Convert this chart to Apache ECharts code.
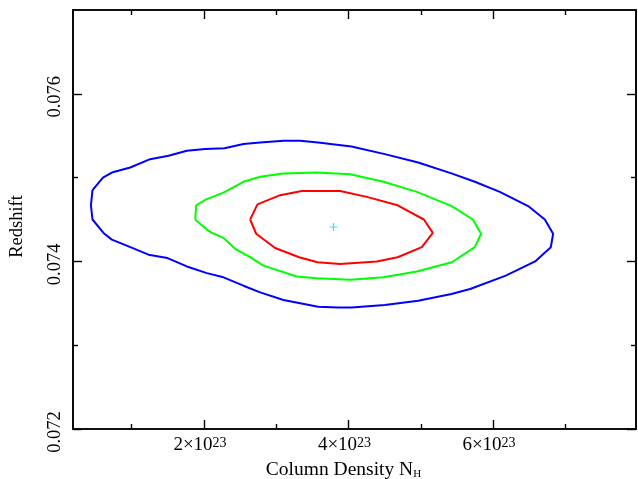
<!DOCTYPE html>
<html>
<head>
<meta charset="utf-8">
<script src="https://cdn.jsdelivr.net/npm/echarts@6/dist/echarts.min.js"></script>
<style>
html, body { margin: 0; padding: 0; background: #fff; }
#chart { width: 638px; height: 479px; }
</style>
</head>
<body>
<div id="chart"></div>
<script>
// column density in units of 1e23, redshift
var blueContour = [
  [0.457, 0.07485], [0.601, 0.07500], [0.725, 0.07506], [0.979, 0.07512], [1.255, 0.07522],
  [1.509, 0.07526], [1.763, 0.07532], [2.016, 0.07534], [2.284, 0.07535], [2.546, 0.07540],
  [2.778, 0.07542], [3.100, 0.07544], [3.331, 0.07544], [3.580, 0.07542], [4.041, 0.07537],
  [4.503, 0.07528], [4.964, 0.07518], [5.425, 0.07505], [5.748, 0.07495], [6.094, 0.07483],
  [6.486, 0.07466], [6.717, 0.07450], [6.832, 0.07433], [6.800, 0.07417], [6.583, 0.07400],
  [6.177, 0.07383], [5.683, 0.07367], [5.425, 0.07361], [4.964, 0.07353], [4.503, 0.07348],
  [4.041, 0.07345], [3.857, 0.07345], [3.580, 0.07346], [3.100, 0.07354], [2.778, 0.07363],
  [2.546, 0.07371], [2.270, 0.07381], [2.040, 0.07386], [1.763, 0.07394], [1.495, 0.07404],
  [1.232, 0.07408], [0.955, 0.07418], [0.725, 0.07426], [0.609, 0.07434], [0.457, 0.07450],
  [0.435, 0.07467], [0.457, 0.07485]
];
var greenContour = [
  [1.878, 0.07450], [1.892, 0.07467], [2.030, 0.07474], [2.270, 0.07482], [2.546, 0.07495],
  [2.778, 0.07501], [3.100, 0.07505], [3.562, 0.07506], [4.023, 0.07504], [4.484, 0.07495],
  [4.946, 0.07483], [5.430, 0.07466], [5.721, 0.07450], [5.835, 0.07433], [5.748, 0.07417],
  [5.430, 0.07399], [4.946, 0.07388], [4.484, 0.07381], [4.023, 0.07378], [3.562, 0.07380],
  [3.285, 0.07382], [2.823, 0.07395], [2.639, 0.07405], [2.432, 0.07415], [2.270, 0.07428],
  [2.109, 0.07434], [2.040, 0.07438], [1.878, 0.07450]
];
var redContour = [
  [2.639, 0.07450], [2.740, 0.07468], [3.054, 0.07479], [3.355, 0.07484], [3.608, 0.07484],
  [3.884, 0.07484], [4.254, 0.07477], [4.680, 0.07467], [5.043, 0.07450], [5.167, 0.07434],
  [5.015, 0.07417], [4.680, 0.07405], [4.392, 0.07400], [3.884, 0.07397], [3.573, 0.07399],
  [3.317, 0.07405], [2.985, 0.07416], [2.722, 0.07433], [2.639, 0.07450]
];
var bestFit = [[3.792, 0.07441]];

var xRange = [0.187, 7.979];
var yRange = [0.072, 0.077];
var xMajorTicks = [2, 4, 6];
var xMinorTicks = [1, 3, 5, 7];
var yMajorTicks = [0.072, 0.074, 0.076];
var yMinorTicks = [0.073, 0.075];

var FONT = 'Liberation Serif, Times New Roman, serif';
var chart = echarts.init(document.getElementById('chart'));

function frameAxis(pos, range, ticks, len, label) {
  return {
    type: 'value',
    position: pos,
    min: range[0],
    max: range[1],
    axisLine: { show: true, onZero: false, lineStyle: { color: '#000', width: 1.6 } },
    axisTick: { show: true, inside: true, length: len, customValues: ticks,
                lineStyle: { color: '#000', width: 1.4 } },
    axisLabel: label || { show: false },
    splitLine: { show: false }
  };
}

var xLabel = {
  show: true, customValues: xMajorTicks, margin: 7, padding: [0, 8, 0, 0],
  formatter: function (v) { return '{m|' + v + '×10}{s|23}'; },
  rich: {
    m: { fontFamily: FONT, fontSize: 19, color: '#000' },
    s: { fontFamily: FONT, fontSize: 14, color: '#000', verticalAlign: 'top' }
  }
};
var yLabel = {
  show: true, customValues: yMajorTicks, rotate: 90, margin: 8, padding: [0, 6, 0, 0],
  fontFamily: FONT, fontSize: 18.5, color: '#000',
  formatter: function (v) { return v.toFixed(3); }
};

var xMain = frameAxis('bottom', xRange, xMajorTicks, 9, xLabel);
xMain.name = '{m|Column Density N}{s|H}';
xMain.nameLocation = 'middle';
xMain.nameGap = 30;
xMain.nameTextStyle = {
  padding: [0, 22, 0, 0],
  rich: {
    m: { fontFamily: FONT, fontSize: 19.5, color: '#000' },
    s: { fontFamily: FONT, fontSize: 11, color: '#000', verticalAlign: 'bottom' }
  }
};
var yMain = frameAxis('left', yRange, yMajorTicks, 9, yLabel);
yMain.name = 'Redshift';
yMain.nameLocation = 'middle';
yMain.nameGap = 46;
yMain.nameTextStyle = { fontFamily: FONT, fontSize: 18.5, color: '#000', padding: [0, 14, 0, 0] };

function contour(data, color) {
  return {
    type: 'line', data: data, showSymbol: false, smooth: false,
    lineStyle: { color: color, width: 2 }, silent: true, animation: false
  };
}

chart.setOption({
  animation: false,
  grid: { left: 73, right: 2, top: 10, bottom: 50, outerBoundsMode: 'none' },
  xAxis: [
    xMain,
    frameAxis('bottom', xRange, xMinorTicks, 5),
    frameAxis('top', xRange, xMajorTicks, 9),
    frameAxis('top', xRange, xMinorTicks, 5)
  ],
  yAxis: [
    yMain,
    frameAxis('left', yRange, yMinorTicks, 5),
    frameAxis('right', yRange, yMajorTicks, 9),
    frameAxis('right', yRange, yMinorTicks, 5)
  ],
  series: [
    contour(blueContour, '#0000ff'),
    contour(greenContour, '#00ff00'),
    contour(redContour, '#ff0000'),
    {
      type: 'scatter', data: bestFit, symbol: 'path://M3,0H4V3H7V4H4V7H3V4H0V3H3Z', symbolSize: 8,
      itemStyle: { color: '#33e0ff', opacity: 1 }, silent: true
    }
  ]
});
</script>
</body>
</html>
